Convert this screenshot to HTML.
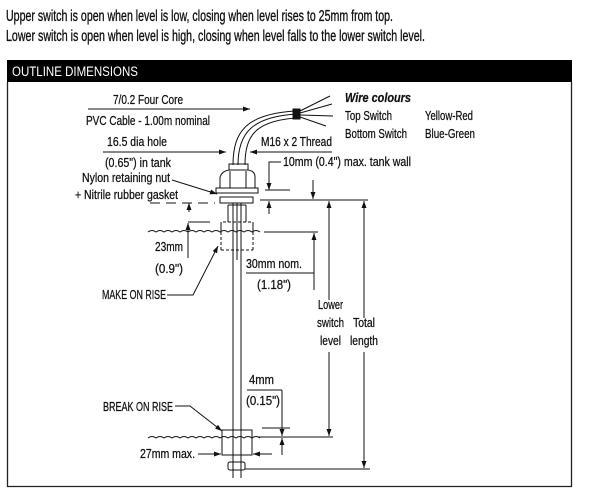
<!DOCTYPE html>
<html><head><meta charset="utf-8"><style>
html,body{margin:0;padding:0;background:#fff;}
svg{display:block;}
text{font-family:"Liberation Sans",sans-serif;fill:#111;}
</style></head><body>
<svg width="604" height="502" viewBox="0 0 604 502" xmlns="http://www.w3.org/2000/svg">
<defs>
<marker id="a" markerWidth="8" markerHeight="6" refX="7" refY="3" orient="auto" markerUnits="userSpaceOnUse"><path d="M0,0.5 L7,3 L0,5.5z" fill="#111"/></marker>
</defs>
<g stroke="#111" stroke-width="0.35">
<text x="6" y="21" font-size="16" textLength="387" lengthAdjust="spacingAndGlyphs">Upper switch is open when level is low, closing when level rises to 25mm from top.</text>
<text x="6" y="41" font-size="16" textLength="419" lengthAdjust="spacingAndGlyphs">Lower  switch is open when level is high, closing when level falls to the lower switch level.</text>
</g>
<rect x="7" y="60" width="565" height="22" fill="#000"/>
<text x="12" y="76" font-size="13.5" style="fill:#fff" textLength="126" lengthAdjust="spacingAndGlyphs">OUTLINE DIMENSIONS</text>
<path d="M7.5,82 V486.5 H571.5 V82" fill="none" stroke="#222" stroke-width="1.3"/>

<g font-size="12.5" stroke="#111" stroke-width="0.25">
<text x="113" y="104" textLength="70" lengthAdjust="spacingAndGlyphs">7/0.2 Four Core</text>
<text x="86" y="125" textLength="124" lengthAdjust="spacingAndGlyphs">PVC Cable - 1.00m nominal</text>
<text x="107" y="146" textLength="60" lengthAdjust="spacingAndGlyphs">16.5 dia hole</text>
<text x="105" y="167" textLength="66" lengthAdjust="spacingAndGlyphs">(0.65") in tank</text>
<text x="82" y="182" textLength="88" lengthAdjust="spacingAndGlyphs">Nylon retaining nut</text>
<text x="75" y="199" textLength="103" lengthAdjust="spacingAndGlyphs">+ Nitrile rubber gasket</text>
<text x="155" y="251" textLength="28" lengthAdjust="spacingAndGlyphs">23mm</text>
<text x="155" y="273" textLength="28" lengthAdjust="spacingAndGlyphs">(0.9")</text>
<text x="102" y="299" textLength="64" lengthAdjust="spacingAndGlyphs">MAKE ON RISE</text>
<text x="103" y="411" textLength="70" lengthAdjust="spacingAndGlyphs">BREAK ON RISE</text>
<text x="140" y="458" textLength="55" lengthAdjust="spacingAndGlyphs">27mm max.</text>
<text x="261" y="146" textLength="71" lengthAdjust="spacingAndGlyphs">M16 x 2 Thread</text>
<text x="283" y="166" textLength="128" lengthAdjust="spacingAndGlyphs">10mm (0.4") max. tank wall</text>
<text x="345" y="102" font-weight="bold" font-style="italic" textLength="66" lengthAdjust="spacingAndGlyphs">Wire colours</text>
<text x="345" y="120" textLength="47" lengthAdjust="spacingAndGlyphs">Top Switch</text>
<text x="425" y="120" textLength="48" lengthAdjust="spacingAndGlyphs">Yellow-Red</text>
<text x="345" y="138" textLength="62" lengthAdjust="spacingAndGlyphs">Bottom Switch</text>
<text x="425" y="138" textLength="50" lengthAdjust="spacingAndGlyphs">Blue-Green</text>
<text x="246" y="268" textLength="56" lengthAdjust="spacingAndGlyphs">30mm nom.</text>
<text x="257" y="289" textLength="34" lengthAdjust="spacingAndGlyphs">(1.18")</text>
<text x="318" y="309" textLength="25" lengthAdjust="spacingAndGlyphs">Lower</text>
<text x="317" y="327" textLength="27" lengthAdjust="spacingAndGlyphs">switch</text>
<text x="320" y="345" textLength="21" lengthAdjust="spacingAndGlyphs">level</text>
<text x="353" y="327" textLength="22" lengthAdjust="spacingAndGlyphs">Total</text>
<text x="350" y="345" textLength="28" lengthAdjust="spacingAndGlyphs">length</text>
<text x="249" y="384" textLength="25" lengthAdjust="spacingAndGlyphs">4mm</text>
<text x="246" y="405" textLength="34" lengthAdjust="spacingAndGlyphs">(0.15")</text>
</g>

<g stroke="#111" stroke-width="1" fill="none">
<line x1="88" y1="109" x2="250" y2="109" marker-end="url(#a)"/>
<line x1="103" y1="152" x2="226" y2="152" marker-end="url(#a)"/>
<line x1="332" y1="152" x2="250" y2="152" marker-end="url(#a)"/>
<line x1="172" y1="180" x2="217" y2="194" marker-end="url(#a)"/>
<path d="M233,165 C233,130 248,114 295,111"/>
<path d="M245,165 C245,135 256,121 296,118"/>
<path d="M238,165 C238,133 252,117 296,114"/>
<rect x="293" y="109" width="7" height="10" fill="#111"/>
<path d="M300,111 L330,96 M300,113 L332,104 M300,115 L333,116 M300,117 L326,126"/>
<rect x="229" y="164" width="19" height="6"/>
<path d="M220,188 V177 Q222,171 229,170 H248 Q255,171 255,177 V188"/>
<line x1="230" y1="171" x2="230" y2="188"/><line x1="246" y1="171" x2="246" y2="188"/>
<rect x="216" y="188" width="42" height="5"/>
<rect x="220" y="197" width="33" height="6"/>
<path d="M228,205 V222 M246,205 V222 M228,205 H246"/>
<path d="M221,250 V222 H253 V250" stroke-dasharray="3,2"/>
<line x1="221" y1="250" x2="253" y2="250" stroke-dasharray="3,2"/>
<path d="M221,222 V232 M253,222 V232"/>
<line x1="233" y1="203" x2="233" y2="478"/>
<line x1="241" y1="203" x2="241" y2="478"/>
<line x1="237" y1="203" x2="237" y2="260"/>
<path d="M148,232 q4,-3 8,0 q4,-3 8,0 q4,-3 8,0 q4,-3 8,0 q4,-3 8,0 q4,-3 8,0 q4,-3 8,0 q4,-3 8,0 q4,-3 8,0 q4,-3 8,0 q4,-3 8,0 q4,-3 8,0 q4,-3 8,0 q4,-3 8,0"/>
<line x1="264" y1="232" x2="318" y2="232"/>
<path d="M148,438 q4,-3 8,0 q4,-3 8,0 q4,-3 8,0 q4,-3 8,0 q4,-3 8,0 q4,-3 8,0 q4,-3 8,0 q4,-3 8,0 q4,-3 8,0 q4,-3 8,0 q4,-3 8,0 q4,-3 8,0 q4,-3 8,0 q4,-3 8,0"/>
<line x1="258" y1="437" x2="333" y2="437"/>
<line x1="314" y1="290" x2="314" y2="233" marker-end="url(#a)"/>
<line x1="246" y1="273" x2="314" y2="273"/>
<line x1="188" y1="222" x2="210" y2="222"/>
<line x1="188" y1="258" x2="188" y2="223" marker-end="url(#a)"/>
<line x1="150" y1="203" x2="215" y2="203" stroke-dasharray="10,6"/>
<line x1="189" y1="212" x2="189" y2="203" marker-end="url(#a)"/>
<path d="M281,162 H269 V190"/>
<line x1="269" y1="180" x2="269" y2="190" marker-end="url(#a)"/>
<line x1="265" y1="190" x2="290" y2="190"/>
<line x1="260" y1="200" x2="368" y2="200"/>
<line x1="269" y1="214" x2="269" y2="201" marker-end="url(#a)"/>
<line x1="313" y1="180" x2="313" y2="199" marker-end="url(#a)"/>
<line x1="329" y1="300" x2="329" y2="201" marker-end="url(#a)"/>
<line x1="329" y1="352" x2="329" y2="436" marker-end="url(#a)"/>
<line x1="364" y1="318" x2="364" y2="201" marker-end="url(#a)"/>
<line x1="364" y1="352" x2="364" y2="468" marker-end="url(#a)"/>
<path d="M167,295 H193 L218,246" marker-end="url(#a)"/>
<path d="M175,406 H190 L222,431" marker-end="url(#a)"/>
<rect x="222" y="430" width="30" height="25"/>
<rect x="228" y="462" width="17" height="8" rx="2"/>
<line x1="245" y1="469" x2="370" y2="469"/>
<line x1="198" y1="454" x2="221" y2="454" marker-end="url(#a)"/>
<line x1="272" y1="454" x2="253" y2="454" marker-end="url(#a)"/>
<path d="M247,390 H282"/>
<line x1="282" y1="390" x2="282" y2="436" marker-end="url(#a)"/>
<line x1="282" y1="455" x2="282" y2="438" marker-end="url(#a)"/>
<line x1="262" y1="428" x2="290" y2="428"/>
</g>
</svg>
</body></html>
